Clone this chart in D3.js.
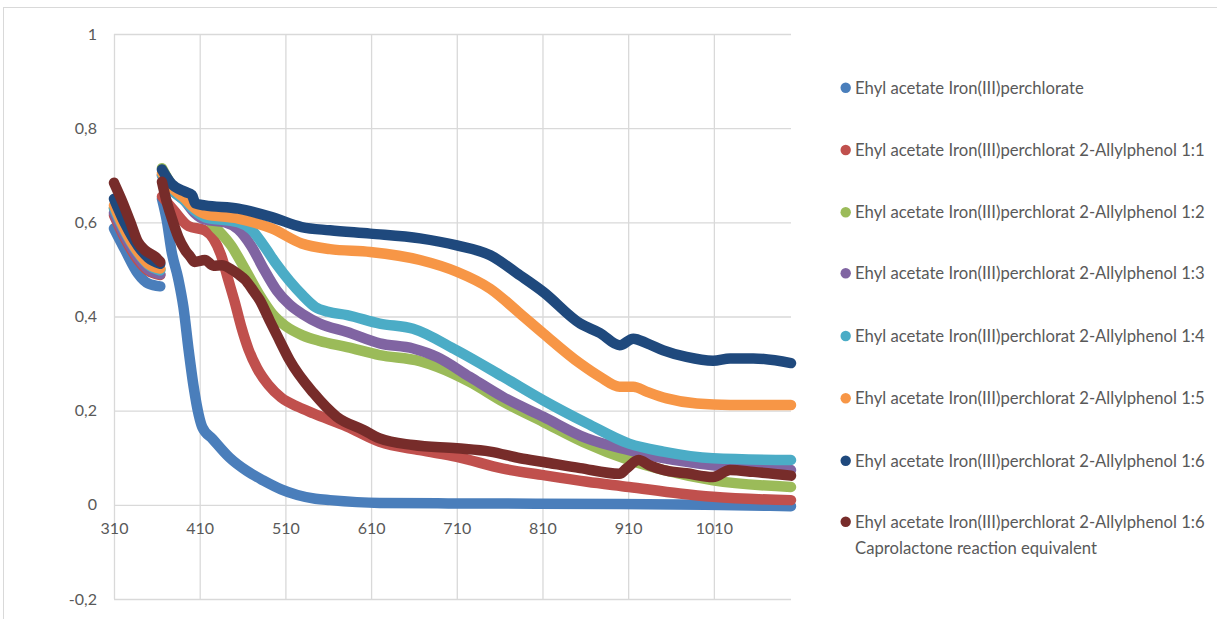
<!DOCTYPE html>
<html><head><meta charset="utf-8">
<script src="https://cdn.jsdelivr.net/npm/d3@7"></script>
<style>html,body{margin:0;padding:0;background:#fff;}svg{display:block;}</style>
</head><body>
<svg id="c" width="1217" height="619"></svg>
<script>
// ---- data (wavelength, value); null marks the break in the scan ----
const xTicks = [310, 410, 510, 610, 710, 810, 910, 1010];
const yTicks = [-0.2, 0, 0.2, 0.4, 0.6, 0.8, 1];

const seriesNames = [
  "Ehyl acetate Iron(III)perchlorate",
  "Ehyl acetate Iron(III)perchlorat 2-Allylphenol 1:1",
  "Ehyl acetate Iron(III)perchlorat 2-Allylphenol 1:2",
  "Ehyl acetate Iron(III)perchlorat 2-Allylphenol 1:3",
  "Ehyl acetate Iron(III)perchlorat 2-Allylphenol 1:4",
  "Ehyl acetate Iron(III)perchlorat 2-Allylphenol 1:5",
  "Ehyl acetate Iron(III)perchlorat 2-Allylphenol 1:6",
  "Ehyl acetate Iron(III)perchlorat 2-Allylphenol 1:6|Caprolactone reaction equivalent"
];
const seriesColors = ["#4a7ebb","#c0504d","#9bbb59","#8064a2","#4bacc6","#f79646","#1f497d","#772c2a"];

const fe = [[310,0.587],[323,0.541],[338,0.491],[350,0.470],[364,0.464],[365,null],
  [366,0.65],[372,0.60],[377,0.54],[385,0.48],[391,0.42],[397,0.33],[403,0.25],[409,0.19],[413,0.165],
  [425,0.14],[445,0.10],[465,0.072],[484,0.052],[505,0.033],[524,0.021],[545,0.013],[562,0.010],
  [620,0.004],[700,0.003],[900,0.002],[1000,0.0],[1100,-0.003]];
const r11 = [[310,0.615],[323,0.565],[338,0.52],[350,0.497],[364,0.488],[365,null],
  [366,0.655],[380,0.625],[397,0.592],[416,0.583],[426,0.565],[435,0.53],[443,0.48],[451,0.43],
  [459,0.375],[467,0.33],[477,0.29],[490,0.255],[505,0.228],[525,0.208],[543,0.194],[582,0.166],
  [620,0.134],[667,0.116],[710,0.102],[764,0.077],[811,0.063],[862,0.049],[911,0.038],[970,0.024],
  [1009,0.017],[1100,0.010]];
const r12 = [[310,0.63],[323,0.585],[338,0.54],[350,0.515],[364,0.50],[365,null],
  [366,0.715],[377,0.68],[393,0.655],[404,0.625],[416,0.612],[428,0.59],[447,0.55],[463,0.50],
  [480,0.445],[495,0.405],[510,0.38],[530,0.36],[550,0.348],[582,0.335],[620,0.318],[667,0.305],
  [687,0.293],[725,0.261],[764,0.219],[811,0.176],[858,0.133],[911,0.095],[951,0.074],[1009,0.052],
  [1100,0.038]];
const r13 = [[310,0.62],[323,0.57],[338,0.525],[350,0.50],[364,0.49],[365,null],
  [366,0.70],[377,0.67],[393,0.645],[404,0.62],[416,0.606],[440,0.60],[455,0.585],[470,0.55],
  [485,0.50],[500,0.455],[515,0.425],[530,0.405],[550,0.385],[582,0.367],[620,0.343],[659,0.332],
  [687,0.314],[725,0.272],[764,0.229],[811,0.187],[862,0.141],[911,0.116],[951,0.099],[1009,0.084],
  [1100,0.074]];
const r14 = [[310,0.63],[323,0.58],[338,0.535],[350,0.51],[364,0.498],[365,null],
  [366,0.70],[377,0.67],[393,0.645],[404,0.625],[416,0.611],[455,0.60],[470,0.585],[485,0.55],
  [500,0.51],[515,0.475],[530,0.445],[545,0.42],[560,0.41],[582,0.403],[620,0.385],[659,0.374],
  [710,0.328],[764,0.272],[811,0.222],[862,0.173],[911,0.130],[951,0.113],[1009,0.099],[1100,0.095]];
const r15 = [[310,0.636],[323,0.583],[338,0.537],[350,0.512],[364,0.502],[365,null],
  [366,0.705],[377,0.675],[393,0.65],[401,0.635],[416,0.618],[455,0.608],[494,0.587],[529,0.555],
  [562,0.543],[609,0.537],[667,0.520],[710,0.495],[749,0.459],[784,0.406],[811,0.364],[854,0.300],
  [877,0.272],[900,0.251],[916,0.251],[932,0.240],[955,0.226],[990,0.215],[1029,0.212],[1100,0.212]];
const r16 = [[310,0.650],[323,0.597],[338,0.55],[350,0.525],[364,0.512],[365,null],
  [366,0.712],[377,0.682],[393,0.665],[401,0.658],[405,0.640],[416,0.636],[455,0.629],[494,0.611],
  [529,0.590],[562,0.583],[609,0.576],[667,0.566],[710,0.551],[749,0.530],[784,0.487],[811,0.452],
  [854,0.385],[877,0.365],[900,0.339],[916,0.353],[932,0.343],[951,0.328],[978,0.314],[1009,0.306],
  [1029,0.311],[1056,0.311],[1100,0.301]];
const r16c = [[310,0.684],[319,0.647],[329,0.601],[338,0.558],[346,0.541],[358,0.527],[364,0.516],[365,null],
  [366,0.686],[371,0.647],[377,0.611],[385,0.569],[393,0.541],[399,0.527],[404,0.516],[416,0.520],
  [426,0.508],[436,0.509],[447,0.50],[455,0.49],[463,0.478],[472,0.456],[480,0.435],[492,0.39],
  [503,0.35],[515,0.307],[543,0.237],[570,0.187],[601,0.159],[620,0.141],[659,0.127],[710,0.120],
  [749,0.113],[784,0.099],[811,0.091],[854,0.078],[900,0.066],[908,0.077],[922,0.095],[935,0.084],
  [951,0.074],[978,0.067],[1009,0.059],[1029,0.074],[1056,0.070],[1100,0.062]];
const seriesData = [fe, r11, r12, r13, r14, r15, r16, r16c];

// ---- drawing ----
const svg = d3.select("#c");
const FONT = "Lato, 'Open Sans', sans-serif";
const TXT = "#595959", GRID = "#d9d9d9";

svg.append("rect").attr("x",3.5).attr("y",7.5).attr("width",1230).attr("height",630)
  .attr("fill","#fff").attr("stroke",GRID);

const x = d3.scaleLinear().domain([310,1100]).range([114,791]);
const y = d3.scaleLinear().domain([-0.2,1]).range([599,34]);
const fmt = d => String(+d.toFixed(1)).replace(".", ",");

// horizontal grid + y labels
const gy = svg.append("g").attr("transform","translate(114,0)")
  .call(d3.axisLeft(y).tickValues(yTicks).tickSize(-(791-114)).tickPadding(17).tickFormat(fmt));
gy.select(".domain").remove();
gy.selectAll("line").attr("stroke",GRID).attr("stroke-width",1.3);
gy.selectAll("text").attr("fill",TXT).style("font-family",FONT).style("font-size","16px");

// vertical grid
const gx = svg.append("g").attr("transform",`translate(0,${y(-0.2)})`)
  .call(d3.axisBottom(x).tickValues(xTicks).tickSize(-(y(-0.2)-y(1))).tickFormat(""));
gx.select(".domain").remove();
gx.selectAll("line").attr("stroke",GRID).attr("stroke-width",1.3);

// x labels below zero line
const gl = svg.append("g").attr("transform",`translate(0,${y(0)})`)
  .call(d3.axisBottom(x).tickValues(xTicks).tickSize(0).tickPadding(18).tickFormat(d3.format("d")));
gl.select(".domain").remove();
gl.selectAll("text").attr("fill",TXT).style("font-family",FONT).style("font-size","16px");

// series
const line = d3.line().defined(d => d[1] !== null)
  .x(d => x(d[0])).y(d => y(d[1])).curve(d3.curveMonotoneX);
svg.append("g").selectAll("path").data(seriesData).join("path")
  .attr("d", line).attr("fill","none")
  .attr("stroke",(d,i)=>seriesColors[i]).attr("stroke-width",10.5)
  .attr("stroke-linejoin","round").attr("stroke-linecap","round");

// legend
const legY = [87.7, 150, 212.3, 273.3, 336, 398.3, 460.7, 521.7];
const lg = svg.append("g");
seriesNames.forEach((name,i) => {
  lg.append("circle").attr("cx",845.7).attr("cy",legY[i]).attr("r",5.2).attr("fill",seriesColors[i]);
  const parts = name.split("|");
  parts.forEach((p,j) => {
    lg.append("text").attr("x",855).attr("y",legY[i] + j*26.6).attr("dy","0.35em")
      .attr("fill",TXT).style("font-family",FONT).style("font-size","15px").text(p);
  });
});
// scale legend font to match reference width (350px for the long label)
const probe = lg.selectAll("text").filter((d,i,n)=> n[i].textContent.endsWith("1:1")).node();
if (probe) {
  const w = probe.getComputedTextLength();
  const fs = 15 * 350 / w;
  lg.selectAll("text").style("font-size", fs + "px");
}
</script>
</body></html>
